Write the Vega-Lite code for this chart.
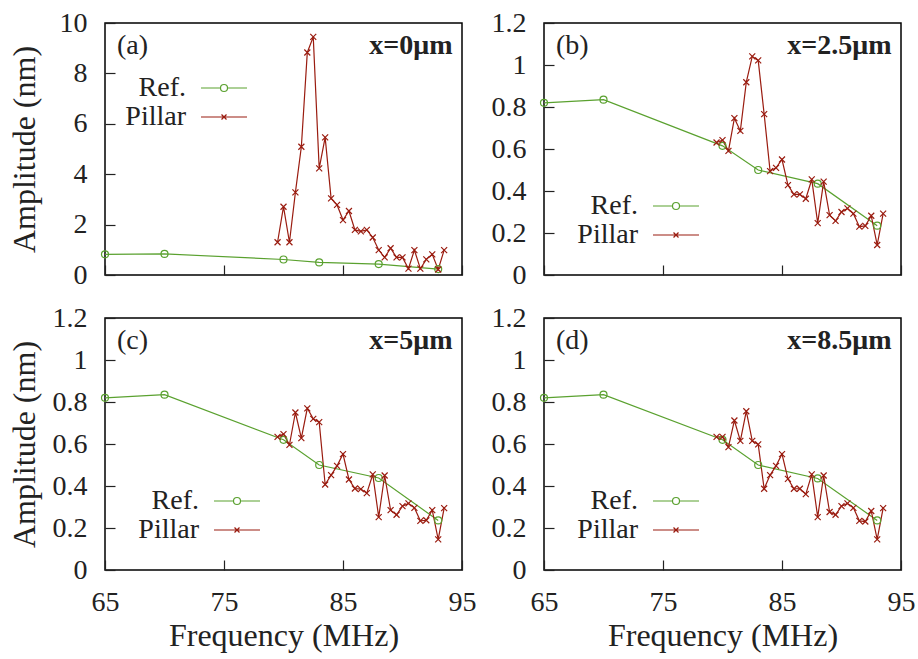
{
  "$schema": "https://vega.github.io/schema/vega-lite/v6.json",
  "padding": {"left": 7, "top": 8, "right": 0, "bottom": 5},
  "background": "white",
  "config": {
    "font": "Liberation Serif",
    "view": {"stroke": "black", "strokeWidth": 1.5},
    "axis": {
      "domain": false, "grid": false, "tickSize": -10, "tickColor": "#222", "tickWidth": 1.2, "labelFlush": false,
      "labelFont": "Liberation Serif", "labelFontSize": 28, "labelColor": "#222", "labelPadding": 28,
      "titleFont": "Liberation Serif", "titleFontSize": 32, "titleFontWeight": "normal", "titleColor": "#222"
    },
    "legend": {
      "orient": "none", "title": null, "labelFont": "Liberation Serif", "labelFontSize": 28, "labelColor": "#222",
      "labelAlign": "right", "labelOffset": 37, "symbolSize": 144, "symbolStrokeWidth": 1.2, "rowPadding": 1
    },
    "text": {"font": "Liberation Serif", "fontSize": 28, "color": "#222"}
  },
  "datasets": {
    "pts": [
      {"panel": "a", "series": "Ref.", "freq": 65, "amp": 0.82},
      {"panel": "a", "series": "Ref.", "freq": 70, "amp": 0.835},
      {"panel": "a", "series": "Ref.", "freq": 80, "amp": 0.615},
      {"panel": "a", "series": "Ref.", "freq": 83, "amp": 0.5},
      {"panel": "a", "series": "Ref.", "freq": 88, "amp": 0.435},
      {"panel": "a", "series": "Ref.", "freq": 93, "amp": 0.235},
      {"panel": "a", "series": "Pillar", "freq": 79.5, "amp": 1.3},
      {"panel": "a", "series": "Pillar", "freq": 80, "amp": 2.71},
      {"panel": "a", "series": "Pillar", "freq": 80.5, "amp": 1.3},
      {"panel": "a", "series": "Pillar", "freq": 81, "amp": 3.28},
      {"panel": "a", "series": "Pillar", "freq": 81.5, "amp": 5.09},
      {"panel": "a", "series": "Pillar", "freq": 82, "amp": 8.83},
      {"panel": "a", "series": "Pillar", "freq": 82.5, "amp": 9.45},
      {"panel": "a", "series": "Pillar", "freq": 83, "amp": 4.23},
      {"panel": "a", "series": "Pillar", "freq": 83.5, "amp": 5.46},
      {"panel": "a", "series": "Pillar", "freq": 84, "amp": 3.04},
      {"panel": "a", "series": "Pillar", "freq": 84.5, "amp": 2.78},
      {"panel": "a", "series": "Pillar", "freq": 85, "amp": 2.18},
      {"panel": "a", "series": "Pillar", "freq": 85.5, "amp": 2.54},
      {"panel": "a", "series": "Pillar", "freq": 86, "amp": 1.79},
      {"panel": "a", "series": "Pillar", "freq": 86.5, "amp": 1.73},
      {"panel": "a", "series": "Pillar", "freq": 87, "amp": 1.79},
      {"panel": "a", "series": "Pillar", "freq": 87.5, "amp": 1.49},
      {"panel": "a", "series": "Pillar", "freq": 88, "amp": 0.99},
      {"panel": "a", "series": "Pillar", "freq": 88.5, "amp": 0.7},
      {"panel": "a", "series": "Pillar", "freq": 89, "amp": 1.06},
      {"panel": "a", "series": "Pillar", "freq": 89.5, "amp": 0.7},
      {"panel": "a", "series": "Pillar", "freq": 90, "amp": 0.7},
      {"panel": "a", "series": "Pillar", "freq": 90.5, "amp": 0.25},
      {"panel": "a", "series": "Pillar", "freq": 91, "amp": 0.99},
      {"panel": "a", "series": "Pillar", "freq": 91.5, "amp": 0.25},
      {"panel": "a", "series": "Pillar", "freq": 92, "amp": 0.62},
      {"panel": "a", "series": "Pillar", "freq": 92.5, "amp": 0.82},
      {"panel": "a", "series": "Pillar", "freq": 93, "amp": 0.22},
      {"panel": "a", "series": "Pillar", "freq": 93.5, "amp": 0.99},

      {"panel": "b", "series": "Ref.", "freq": 65, "amp": 0.82},
      {"panel": "b", "series": "Ref.", "freq": 70, "amp": 0.835},
      {"panel": "b", "series": "Ref.", "freq": 80, "amp": 0.615},
      {"panel": "b", "series": "Ref.", "freq": 83, "amp": 0.5},
      {"panel": "b", "series": "Ref.", "freq": 88, "amp": 0.435},
      {"panel": "b", "series": "Ref.", "freq": 93, "amp": 0.235},
      {"panel": "b", "series": "Pillar", "freq": 79.5, "amp": 0.631},
      {"panel": "b", "series": "Pillar", "freq": 80, "amp": 0.642},
      {"panel": "b", "series": "Pillar", "freq": 80.5, "amp": 0.591},
      {"panel": "b", "series": "Pillar", "freq": 81, "amp": 0.747},
      {"panel": "b", "series": "Pillar", "freq": 81.5, "amp": 0.686},
      {"panel": "b", "series": "Pillar", "freq": 82, "amp": 0.918},
      {"panel": "b", "series": "Pillar", "freq": 82.5, "amp": 1.041},
      {"panel": "b", "series": "Pillar", "freq": 83, "amp": 1.022},
      {"panel": "b", "series": "Pillar", "freq": 83.5, "amp": 0.766},
      {"panel": "b", "series": "Pillar", "freq": 84, "amp": 0.495},
      {"panel": "b", "series": "Pillar", "freq": 84.5, "amp": 0.51},
      {"panel": "b", "series": "Pillar", "freq": 85, "amp": 0.55},
      {"panel": "b", "series": "Pillar", "freq": 85.5, "amp": 0.428},
      {"panel": "b", "series": "Pillar", "freq": 86, "amp": 0.384},
      {"panel": "b", "series": "Pillar", "freq": 86.5, "amp": 0.384},
      {"panel": "b", "series": "Pillar", "freq": 87, "amp": 0.363},
      {"panel": "b", "series": "Pillar", "freq": 87.5, "amp": 0.455},
      {"panel": "b", "series": "Pillar", "freq": 88, "amp": 0.247},
      {"panel": "b", "series": "Pillar", "freq": 88.5, "amp": 0.445},
      {"panel": "b", "series": "Pillar", "freq": 89, "amp": 0.285},
      {"panel": "b", "series": "Pillar", "freq": 89.5, "amp": 0.258},
      {"panel": "b", "series": "Pillar", "freq": 90, "amp": 0.3},
      {"panel": "b", "series": "Pillar", "freq": 90.5, "amp": 0.317},
      {"panel": "b", "series": "Pillar", "freq": 91, "amp": 0.292},
      {"panel": "b", "series": "Pillar", "freq": 91.5, "amp": 0.23},
      {"panel": "b", "series": "Pillar", "freq": 92, "amp": 0.234},
      {"panel": "b", "series": "Pillar", "freq": 92.5, "amp": 0.282},
      {"panel": "b", "series": "Pillar", "freq": 93, "amp": 0.143},
      {"panel": "b", "series": "Pillar", "freq": 93.5, "amp": 0.292},

      {"panel": "c", "series": "Ref.", "freq": 65, "amp": 0.82},
      {"panel": "c", "series": "Ref.", "freq": 70, "amp": 0.835},
      {"panel": "c", "series": "Ref.", "freq": 80, "amp": 0.62},
      {"panel": "c", "series": "Ref.", "freq": 83, "amp": 0.5},
      {"panel": "c", "series": "Ref.", "freq": 88, "amp": 0.438},
      {"panel": "c", "series": "Ref.", "freq": 93, "amp": 0.236},
      {"panel": "c", "series": "Pillar", "freq": 79.5, "amp": 0.634},
      {"panel": "c", "series": "Pillar", "freq": 80, "amp": 0.647},
      {"panel": "c", "series": "Pillar", "freq": 80.5, "amp": 0.596},
      {"panel": "c", "series": "Pillar", "freq": 81, "amp": 0.75},
      {"panel": "c", "series": "Pillar", "freq": 81.5, "amp": 0.628},
      {"panel": "c", "series": "Pillar", "freq": 82, "amp": 0.77},
      {"panel": "c", "series": "Pillar", "freq": 82.5, "amp": 0.72},
      {"panel": "c", "series": "Pillar", "freq": 83, "amp": 0.704},
      {"panel": "c", "series": "Pillar", "freq": 83.5, "amp": 0.407},
      {"panel": "c", "series": "Pillar", "freq": 84, "amp": 0.452},
      {"panel": "c", "series": "Pillar", "freq": 84.5, "amp": 0.496},
      {"panel": "c", "series": "Pillar", "freq": 85, "amp": 0.552},
      {"panel": "c", "series": "Pillar", "freq": 85.5, "amp": 0.431},
      {"panel": "c", "series": "Pillar", "freq": 86, "amp": 0.388},
      {"panel": "c", "series": "Pillar", "freq": 86.5, "amp": 0.385},
      {"panel": "c", "series": "Pillar", "freq": 87, "amp": 0.366},
      {"panel": "c", "series": "Pillar", "freq": 87.5, "amp": 0.455},
      {"panel": "c", "series": "Pillar", "freq": 88, "amp": 0.252},
      {"panel": "c", "series": "Pillar", "freq": 88.5, "amp": 0.45},
      {"panel": "c", "series": "Pillar", "freq": 89, "amp": 0.285},
      {"panel": "c", "series": "Pillar", "freq": 89.5, "amp": 0.263},
      {"panel": "c", "series": "Pillar", "freq": 90, "amp": 0.304},
      {"panel": "c", "series": "Pillar", "freq": 90.5, "amp": 0.317},
      {"panel": "c", "series": "Pillar", "freq": 91, "amp": 0.296},
      {"panel": "c", "series": "Pillar", "freq": 91.5, "amp": 0.234},
      {"panel": "c", "series": "Pillar", "freq": 92, "amp": 0.237},
      {"panel": "c", "series": "Pillar", "freq": 92.5, "amp": 0.285},
      {"panel": "c", "series": "Pillar", "freq": 93, "amp": 0.146},
      {"panel": "c", "series": "Pillar", "freq": 93.5, "amp": 0.295},

      {"panel": "d", "series": "Ref.", "freq": 65, "amp": 0.82},
      {"panel": "d", "series": "Ref.", "freq": 70, "amp": 0.835},
      {"panel": "d", "series": "Ref.", "freq": 80, "amp": 0.62},
      {"panel": "d", "series": "Ref.", "freq": 83, "amp": 0.5},
      {"panel": "d", "series": "Ref.", "freq": 88, "amp": 0.436},
      {"panel": "d", "series": "Ref.", "freq": 93, "amp": 0.236},
      {"panel": "d", "series": "Pillar", "freq": 79.5, "amp": 0.634},
      {"panel": "d", "series": "Pillar", "freq": 80, "amp": 0.634},
      {"panel": "d", "series": "Pillar", "freq": 80.5, "amp": 0.585},
      {"panel": "d", "series": "Pillar", "freq": 81, "amp": 0.712},
      {"panel": "d", "series": "Pillar", "freq": 81.5, "amp": 0.615},
      {"panel": "d", "series": "Pillar", "freq": 82, "amp": 0.756},
      {"panel": "d", "series": "Pillar", "freq": 82.5, "amp": 0.615},
      {"panel": "d", "series": "Pillar", "freq": 83, "amp": 0.598},
      {"panel": "d", "series": "Pillar", "freq": 83.5, "amp": 0.387},
      {"panel": "d", "series": "Pillar", "freq": 84, "amp": 0.452},
      {"panel": "d", "series": "Pillar", "freq": 84.5, "amp": 0.496},
      {"panel": "d", "series": "Pillar", "freq": 85, "amp": 0.552},
      {"panel": "d", "series": "Pillar", "freq": 85.5, "amp": 0.434},
      {"panel": "d", "series": "Pillar", "freq": 86, "amp": 0.387},
      {"panel": "d", "series": "Pillar", "freq": 86.5, "amp": 0.387},
      {"panel": "d", "series": "Pillar", "freq": 87, "amp": 0.361},
      {"panel": "d", "series": "Pillar", "freq": 87.5, "amp": 0.455},
      {"panel": "d", "series": "Pillar", "freq": 88, "amp": 0.252},
      {"panel": "d", "series": "Pillar", "freq": 88.5, "amp": 0.45},
      {"panel": "d", "series": "Pillar", "freq": 89, "amp": 0.276},
      {"panel": "d", "series": "Pillar", "freq": 89.5, "amp": 0.263},
      {"panel": "d", "series": "Pillar", "freq": 90, "amp": 0.304},
      {"panel": "d", "series": "Pillar", "freq": 90.5, "amp": 0.317},
      {"panel": "d", "series": "Pillar", "freq": 91, "amp": 0.296},
      {"panel": "d", "series": "Pillar", "freq": 91.5, "amp": 0.234},
      {"panel": "d", "series": "Pillar", "freq": 92, "amp": 0.231},
      {"panel": "d", "series": "Pillar", "freq": 92.5, "amp": 0.281},
      {"panel": "d", "series": "Pillar", "freq": 93, "amp": 0.146},
      {"panel": "d", "series": "Pillar", "freq": 93.5, "amp": 0.295}
    ],
    "tags": [
      {"panel": "a", "tag": "(a)", "pos": "x=0μm"},
      {"panel": "b", "tag": "(b)", "pos": "x=2.5μm"},
      {"panel": "c", "tag": "(c)", "pos": "x=5μm"},
      {"panel": "d", "tag": "(d)", "pos": "x=8.5μm"}
    ]
  },
  "columns": 2,
  "spacing": {"row": 43, "column": 82},
  "bounds": "flush",
  "resolve": {"scale": {"color": "independent"}, "legend": {"color": "independent"}},
  "concat": [
    {
      "width": 357, "height": 252,
      "layer": [
        {
          "data": {"name": "pts"},
          "transform": [{"filter": "datum.panel === 'a'"}],
          "mark": {"type": "line", "strokeWidth": 1.2},
          "encoding": {
            "x": {"field": "freq", "type": "quantitative", "scale": {"domain": [65, 95], "nice": false}, "axis": {"values": [65, 75, 85, 95], "labels": false, "title": null}},
            "y": {"field": "amp", "type": "quantitative", "scale": {"domain": [0, 10], "nice": false}, "axis": {"values": [0, 2, 4, 6, 8, 10], "format": ".2~f", "title": "Amplitude (nm)", "titlePadding": 18}},
            "color": {"field": "series", "type": "nominal", "scale": {"domain": ["Ref.", "Pillar"], "range": ["#5aa12f", "#9a1c10"]},
              "legend": {"legendX": 16, "legendY": 51,
                "encode": {"symbols": {"update": {"fill": {"value": "transparent"}, "shape": {"signal": "datum.value === 'Ref.' ? 'M11,0H14.25M15.42,0H18.67M14.25,0A0.58,0.58 0 1,0 15.42,0A0.58,0.58 0 1,0 14.25,0' : 'M11,0H18.67M14.42,-0.42L15.25,0.42M14.42,0.42L15.25,-0.42'"}}}}}}
          }
        },
        {
          "data": {"name": "pts"},
          "transform": [{"filter": "datum.panel === 'a' && datum.series === 'Ref.'"}],
          "mark": {"type": "point", "shape": "circle", "filled": false, "size": 49, "color": "#5aa12f", "strokeWidth": 1.2, "opacity": 1},
          "encoding": {"x": {"field": "freq", "type": "quantitative"}, "y": {"field": "amp", "type": "quantitative"}}
        },
        {
          "data": {"name": "pts"},
          "transform": [{"filter": "datum.panel === 'a' && datum.series === 'Pillar'"}],
          "mark": {"type": "point", "shape": "M-1,-1L1,1M-1,1L1,-1", "filled": false, "size": 36, "color": "#9a1c10", "strokeWidth": 1.2, "opacity": 1},
          "encoding": {"x": {"field": "freq", "type": "quantitative"}, "y": {"field": "amp", "type": "quantitative"}}
        },
        {
          "data": {"name": "tags"},
          "transform": [{"filter": "datum.panel === 'a'"}],
          "mark": {"type": "text", "align": "left", "baseline": "middle"},
          "encoding": {"x": {"datum": 66.0}, "y": {"datum": 9.1}, "text": {"field": "tag"}}
        },
        {
          "data": {"name": "tags"},
          "transform": [{"filter": "datum.panel === 'a'"}],
          "mark": {"type": "text", "align": "right", "baseline": "middle", "fontWeight": "bold"},
          "encoding": {"x": {"datum": 94.2}, "y": {"datum": 9.1}, "text": {"field": "pos"}}
        }
      ]
    },
    {
      "width": 357, "height": 252,
      "layer": [
        {
          "data": {"name": "pts"},
          "transform": [{"filter": "datum.panel === 'b'"}],
          "mark": {"type": "line", "strokeWidth": 1.2},
          "encoding": {
            "x": {"field": "freq", "type": "quantitative", "scale": {"domain": [65, 95], "nice": false}, "axis": {"values": [65, 75, 85, 95], "labels": false, "title": null}},
            "y": {"field": "amp", "type": "quantitative", "scale": {"domain": [0, 1.2], "nice": false}, "axis": {"values": [0, 0.2, 0.4, 0.6, 0.8, 1, 1.2], "format": ".2~f", "title": null}},
            "color": {"field": "series", "type": "nominal", "scale": {"domain": ["Ref.", "Pillar"], "range": ["#5aa12f", "#9a1c10"]},
              "legend": {"legendX": 29, "legendY": 169,
                "encode": {"symbols": {"update": {"fill": {"value": "transparent"}, "shape": {"signal": "datum.value === 'Ref.' ? 'M11,0H14.25M15.42,0H18.67M14.25,0A0.58,0.58 0 1,0 15.42,0A0.58,0.58 0 1,0 14.25,0' : 'M11,0H18.67M14.42,-0.42L15.25,0.42M14.42,0.42L15.25,-0.42'"}}}}}}
          }
        },
        {
          "data": {"name": "pts"},
          "transform": [{"filter": "datum.panel === 'b' && datum.series === 'Ref.'"}],
          "mark": {"type": "point", "shape": "circle", "filled": false, "size": 49, "color": "#5aa12f", "strokeWidth": 1.2, "opacity": 1},
          "encoding": {"x": {"field": "freq", "type": "quantitative"}, "y": {"field": "amp", "type": "quantitative"}}
        },
        {
          "data": {"name": "pts"},
          "transform": [{"filter": "datum.panel === 'b' && datum.series === 'Pillar'"}],
          "mark": {"type": "point", "shape": "M-1,-1L1,1M-1,1L1,-1", "filled": false, "size": 36, "color": "#9a1c10", "strokeWidth": 1.2, "opacity": 1},
          "encoding": {"x": {"field": "freq", "type": "quantitative"}, "y": {"field": "amp", "type": "quantitative"}}
        },
        {
          "data": {"name": "tags"},
          "transform": [{"filter": "datum.panel === 'b'"}],
          "mark": {"type": "text", "align": "left", "baseline": "middle"},
          "encoding": {"x": {"datum": 66.0}, "y": {"datum": 1.092}, "text": {"field": "tag"}}
        },
        {
          "data": {"name": "tags"},
          "transform": [{"filter": "datum.panel === 'b'"}],
          "mark": {"type": "text", "align": "right", "baseline": "middle", "fontWeight": "bold"},
          "encoding": {"x": {"datum": 94.2}, "y": {"datum": 1.092}, "text": {"field": "pos"}}
        }
      ]
    },
    {
      "width": 357, "height": 252,
      "layer": [
        {
          "data": {"name": "pts"},
          "transform": [{"filter": "datum.panel === 'c'"}],
          "mark": {"type": "line", "strokeWidth": 1.2},
          "encoding": {
            "x": {"field": "freq", "type": "quantitative", "scale": {"domain": [65, 95], "nice": false}, "axis": {"values": [65, 75, 85, 95], "title": "Frequency (MHz)", "titlePadding": 4}},
            "y": {"field": "amp", "type": "quantitative", "scale": {"domain": [0, 1.2], "nice": false}, "axis": {"values": [0, 0.2, 0.4, 0.6, 0.8, 1, 1.2], "format": ".2~f", "title": "Amplitude (nm)", "titlePadding": 11}},
            "color": {"field": "series", "type": "nominal", "scale": {"domain": ["Ref.", "Pillar"], "range": ["#5aa12f", "#9a1c10"]},
              "legend": {"legendX": 29, "legendY": 169,
                "encode": {"symbols": {"update": {"fill": {"value": "transparent"}, "shape": {"signal": "datum.value === 'Ref.' ? 'M11,0H14.25M15.42,0H18.67M14.25,0A0.58,0.58 0 1,0 15.42,0A0.58,0.58 0 1,0 14.25,0' : 'M11,0H18.67M14.42,-0.42L15.25,0.42M14.42,0.42L15.25,-0.42'"}}}}}}
          }
        },
        {
          "data": {"name": "pts"},
          "transform": [{"filter": "datum.panel === 'c' && datum.series === 'Ref.'"}],
          "mark": {"type": "point", "shape": "circle", "filled": false, "size": 49, "color": "#5aa12f", "strokeWidth": 1.2, "opacity": 1},
          "encoding": {"x": {"field": "freq", "type": "quantitative"}, "y": {"field": "amp", "type": "quantitative"}}
        },
        {
          "data": {"name": "pts"},
          "transform": [{"filter": "datum.panel === 'c' && datum.series === 'Pillar'"}],
          "mark": {"type": "point", "shape": "M-1,-1L1,1M-1,1L1,-1", "filled": false, "size": 36, "color": "#9a1c10", "strokeWidth": 1.2, "opacity": 1},
          "encoding": {"x": {"field": "freq", "type": "quantitative"}, "y": {"field": "amp", "type": "quantitative"}}
        },
        {
          "data": {"name": "tags"},
          "transform": [{"filter": "datum.panel === 'c'"}],
          "mark": {"type": "text", "align": "left", "baseline": "middle"},
          "encoding": {"x": {"datum": 66.0}, "y": {"datum": 1.092}, "text": {"field": "tag"}}
        },
        {
          "data": {"name": "tags"},
          "transform": [{"filter": "datum.panel === 'c'"}],
          "mark": {"type": "text", "align": "right", "baseline": "middle", "fontWeight": "bold"},
          "encoding": {"x": {"datum": 94.2}, "y": {"datum": 1.092}, "text": {"field": "pos"}}
        }
      ]
    },
    {
      "width": 357, "height": 252,
      "layer": [
        {
          "data": {"name": "pts"},
          "transform": [{"filter": "datum.panel === 'd'"}],
          "mark": {"type": "line", "strokeWidth": 1.2},
          "encoding": {
            "x": {"field": "freq", "type": "quantitative", "scale": {"domain": [65, 95], "nice": false}, "axis": {"values": [65, 75, 85, 95], "title": "Frequency (MHz)", "titlePadding": 4}},
            "y": {"field": "amp", "type": "quantitative", "scale": {"domain": [0, 1.2], "nice": false}, "axis": {"values": [0, 0.2, 0.4, 0.6, 0.8, 1, 1.2], "format": ".2~f", "title": null}},
            "color": {"field": "series", "type": "nominal", "scale": {"domain": ["Ref.", "Pillar"], "range": ["#5aa12f", "#9a1c10"]},
              "legend": {"legendX": 29, "legendY": 169,
                "encode": {"symbols": {"update": {"fill": {"value": "transparent"}, "shape": {"signal": "datum.value === 'Ref.' ? 'M11,0H14.25M15.42,0H18.67M14.25,0A0.58,0.58 0 1,0 15.42,0A0.58,0.58 0 1,0 14.25,0' : 'M11,0H18.67M14.42,-0.42L15.25,0.42M14.42,0.42L15.25,-0.42'"}}}}}}
          }
        },
        {
          "data": {"name": "pts"},
          "transform": [{"filter": "datum.panel === 'd' && datum.series === 'Ref.'"}],
          "mark": {"type": "point", "shape": "circle", "filled": false, "size": 49, "color": "#5aa12f", "strokeWidth": 1.2, "opacity": 1},
          "encoding": {"x": {"field": "freq", "type": "quantitative"}, "y": {"field": "amp", "type": "quantitative"}}
        },
        {
          "data": {"name": "pts"},
          "transform": [{"filter": "datum.panel === 'd' && datum.series === 'Pillar'"}],
          "mark": {"type": "point", "shape": "M-1,-1L1,1M-1,1L1,-1", "filled": false, "size": 36, "color": "#9a1c10", "strokeWidth": 1.2, "opacity": 1},
          "encoding": {"x": {"field": "freq", "type": "quantitative"}, "y": {"field": "amp", "type": "quantitative"}}
        },
        {
          "data": {"name": "tags"},
          "transform": [{"filter": "datum.panel === 'd'"}],
          "mark": {"type": "text", "align": "left", "baseline": "middle"},
          "encoding": {"x": {"datum": 66.0}, "y": {"datum": 1.092}, "text": {"field": "tag"}}
        },
        {
          "data": {"name": "tags"},
          "transform": [{"filter": "datum.panel === 'd'"}],
          "mark": {"type": "text", "align": "right", "baseline": "middle", "fontWeight": "bold"},
          "encoding": {"x": {"datum": 94.2}, "y": {"datum": 1.092}, "text": {"field": "pos"}}
        }
      ]
    }
  ]
}
